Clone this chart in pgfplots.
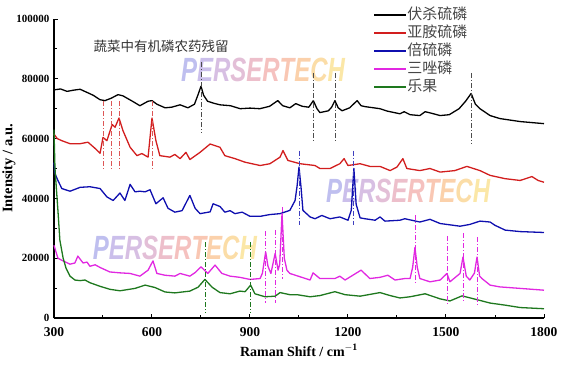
\documentclass[border=0pt]{standalone}
\usepackage{pgfplots}
\pgfplotsset{compat=1.18}
\usepackage{fontspec}
\setmainfont{Liberation Serif}
\newfontfamily\cjk{Noto Sans CJK SC}
\newfontfamily\wm{Liberation Sans}
\definecolor{cblack}{RGB}{0,0,0}
\definecolor{cred}{RGB}{210,30,30}
\definecolor{cblue}{RGB}{15,15,175}
\definecolor{cmag}{RGB}{225,40,225}
\definecolor{cgreen}{RGB}{30,120,30}
\definecolor{w1}{RGB}{175,175,235}
\definecolor{w2}{RGB}{190,175,230}
\definecolor{w3}{RGB}{205,175,220}
\definecolor{w4}{RGB}{220,175,205}
\definecolor{w5}{RGB}{232,175,190}
\definecolor{w6}{RGB}{242,178,175}
\definecolor{w7}{RGB}{248,185,160}
\definecolor{w8}{RGB}{250,198,150}
\definecolor{w9}{RGB}{250,212,145}
\definecolor{w10}{RGB}{250,225,145}
\definecolor{legtext}{RGB}{70,70,70}
\newcommand{\wmark}{{\wm\bfseries\itshape\color{w1}P\color{w2}E\color{w3}R\color{w4}S\color{w5}E\color{w6}R\color{w7}T\color{w8}E\color{w9}C\color{w10}H}}
\begin{document}
\begin{tikzpicture}
\begin{axis}[name=ax, scale only axis, width=490pt, height=299pt,
  xmin=300, xmax=1800, ymin=0, ymax=100000,
  axis x line*=bottom, axis y line*=left,
  axis line style={line width=1.2pt},
  xtick={300,600,...,1800}, minor xtick={450,750,...,1650},
  ytick={0,20000,...,100000}, minor ytick={10000,30000,...,90000},
  tick align=inside, major tick length=4pt, minor tick length=3pt,
  tick style={line width=1pt, black},
  scaled y ticks=false, scaled x ticks=false,
  xticklabel={\pgfmathprintnumber[fixed,precision=0,1000 sep={},assume math mode=true]{\tick}},
  yticklabel={\pgfmathprintnumber[fixed,precision=0,1000 sep={},assume math mode=true]{\tick}},
  xticklabel style={font=\bfseries\fontsize{13.5}{13.5}\selectfont, yshift=-6pt},
  yticklabel style={font=\bfseries\fontsize{11}{11}\selectfont, xshift=-1pt},
  xlabel={\bfseries Raman Shift / cm$^{\mathbf{-1}}$},
  ylabel={\bfseries Intensity / a.u.},
  xlabel style={font=\bfseries\fontsize{14}{14}\selectfont, yshift=-1pt},
  ylabel style={font=\bfseries\fontsize{14.5}{14.5}\selectfont, yshift=-6pt},
  clip=false,
  legend style={at={(0.645,1.045)}, anchor=north west, draw=none, fill=none,
    font=\cjk\fontsize{15}{15}\selectfont,
    nodes={inner sep=0.5pt, text height=11.5pt, text depth=2.5pt, anchor=west, text=legtext},
    row sep=3pt},
  legend cell align=left,
  legend image code/.code={\draw[#1, line width=1.5pt, solid] (0pt,0pt) -- (32pt,0pt);},
  every axis plot/.append style={line width=1.3pt, line join=round},
  mk/.style={forget plot, line width=0.8pt, dash pattern=on 5pt off 2pt on 1pt off 2pt},
]
\node[font=\fontsize{24}{24}\selectfont, yscale=1.4, opacity=0.8] at (axis cs:940,82900) {\wmark};
\node[font=\fontsize{24}{24}\selectfont, yscale=1.4, opacity=0.8] at (axis cs:1384,42500) {\wmark};
\node[font=\fontsize{24}{24}\selectfont, yscale=1.4, opacity=0.8] at (axis cs:670,23400) {\wmark};
\node[font=\cjk\fontsize{13.5}{13.5}\selectfont, text=black!80] at (axis cs:628,91000) {蔬菜中有机磷农药残留};

% black
\addplot[cblack] coordinates {(300,76300)(320,76600)(340,75800)(360,76200)(380,76500)(400,75500)(420,74500)(441,73000)(456,72700)(475,73500)(496,74700)(511,74300)(540,72500)(563,71000)(588,72500)(600,72700)(615,71500)(640,70300)(660,70500)(686,71300)(710,70300)(730,71500)(742,75000)(750,77500)(758,74500)(770,72500)(790,71800)(808,71300)(840,71000)(870,70000)(900,70200)(930,70000)(960,70800)(985,72700)(1000,71000)(1022,70300)(1040,71700)(1060,70800)(1080,70500)(1094,72700)(1105,70000)(1114,68700)(1140,69300)(1150,70500)(1160,72700)(1170,70300)(1182,69300)(1205,70300)(1228,72700)(1240,71000)(1252,70700)(1298,70000)(1320,69200)(1359,68300)(1372,69000)(1390,68000)(1420,67700)(1436,69000)(1455,68500)(1482,67700)(1510,68000)(1540,70000)(1560,72500)(1577,75100)(1590,71500)(1604,70000)(1635,67700)(1665,66700)(1727,65700)(1800,65000)};
\addlegendentry{伏杀硫磷}
% red
\addplot[cred] coordinates {(300,61500)(310,60000)(324,59300)(349,58300)(380,58300)(404,58800)(426,56700)(441,55100)(450,60400)(462,59300)(478,64700)(487,63800)(499,66900)(511,62700)(533,57100)(554,54300)(569,55000)(588,53800)(600,66900)(612,59300)(624,54300)(655,53800)(670,54700)(686,53300)(704,55400)(716,53000)(747,55400)(778,58200)(808,57100)(823,54300)(854,53300)(885,52100)(931,51000)(961,51600)(992,53800)(1001,56000)(1016,52700)(1053,51600)(1099,51000)(1114,50000)(1145,50000)(1175,51600)(1188,53300)(1200,51000)(1237,51600)(1267,50700)(1298,50700)(1329,49300)(1350,50500)(1368,53300)(1380,50000)(1420,49300)(1451,50000)(1482,48800)(1527,49300)(1564,50700)(1604,49300)(1635,47700)(1681,46600)(1727,46000)(1763,47300)(1782,46000)(1800,45400)};
\addlegendentry{亚胺硫磷}
% blue
\addplot[cblue] coordinates {(300,52000)(303,48300)(312,46000)(324,43300)(349,42400)(380,43700)(410,43900)(441,43300)(462,40500)(481,39300)(502,41800)(517,39300)(533,44700)(548,42200)(563,42400)(579,42200)(594,42900)(612,38200)(634,40200)(649,36700)(670,35400)(692,35900)(716,41000)(732,36700)(747,34900)(778,35500)(787,38200)(808,37300)(823,35400)(839,35900)(854,34900)(876,35400)(900,34000)(931,34000)(961,34600)(992,34900)(1022,36000)(1038,39300)(1044,44000)(1050,50500)(1056,44000)(1062,36000)(1084,33800)(1099,33200)(1120,34300)(1145,33200)(1175,33800)(1200,32700)(1210,36000)(1218,50000)(1225,38000)(1237,33500)(1252,33200)(1283,32700)(1298,33800)(1313,32400)(1359,32700)(1374,33200)(1420,32100)(1451,33000)(1482,31600)(1543,30700)(1573,31300)(1604,32400)(1635,32100)(1650,31000)(1681,29400)(1727,28900)(1800,28600)};
\addlegendentry{倍硫磷}
% magenta
\addplot[cmag] coordinates {(300,24300)(312,20000)(324,19300)(349,18000)(364,18400)(373,20700)(389,18400)(401,18700)(410,17300)(426,17800)(441,16900)(471,15400)(502,15100)(533,14900)(563,14000)(588,16000)(603,19100)(615,14900)(640,14300)(670,14000)(686,14900)(716,14000)(732,15200)(750,17100)(771,14900)(793,17700)(814,14900)(839,14000)(869,13600)(900,12900)(931,13200)(938,15000)(948,22100)(955,17300)(964,14900)(977,21600)(986,16000)(991,18000)(998,34900)(1005,20000)(1013,16000)(1022,14900)(1053,13800)(1084,12700)(1093,15100)(1114,13200)(1160,13200)(1175,14000)(1191,12700)(1240,16000)(1267,13200)(1298,13600)(1322,14300)(1344,12700)(1374,13200)(1390,13200)(1398,17000)(1405,23600)(1412,17000)(1420,13200)(1451,12100)(1482,12700)(1503,14900)(1512,12100)(1543,14900)(1552,20400)(1562,14000)(1573,12700)(1587,15000)(1595,20400)(1603,14000)(1610,13200)(1635,11000)(1665,10400)(1727,9900)(1800,9300)};
\addlegendentry{三唑磷}
% green
\addplot[cgreen] coordinates {(300,63000)(303,50000)(312,36000)(318,26000)(328,20000)(337,16600)(349,14000)(364,12700)(380,12500)(395,12700)(410,11800)(441,10600)(471,9600)(502,9100)(548,9900)(579,11000)(609,10200)(640,8700)(670,8400)(716,9000)(741,10300)(762,12900)(784,10300)(808,8500)(839,8100)(869,9000)(885,8800)(902,11000)(915,8100)(946,7100)(977,7300)(992,8500)(1022,7800)(1044,7800)(1084,7100)(1114,7500)(1160,8800)(1191,7800)(1237,7300)(1298,8500)(1329,7500)(1359,6700)(1390,7100)(1436,8100)(1482,6400)(1512,5700)(1549,7400)(1589,6300)(1635,5000)(1681,4300)(1727,3500)(1800,3100)};
\addlegendentry{乐果}

% marker lines
\addplot[mk, black!70] coordinates {(750,85500)(750,62000)};
\addplot[mk, black!70] coordinates {(1095,82000)(1095,59500)};
\addplot[mk, black!70] coordinates {(1160,82000)(1160,59500)};
\addplot[mk, black!70] coordinates {(1577,82000)(1577,58500)};
\addplot[mk, cred!75] coordinates {(450,72500)(450,49500)};
\addplot[mk, cred!75] coordinates {(475,72500)(475,49500)};
\addplot[mk, cred!75] coordinates {(499,72500)(499,49500)};
\addplot[mk, cred!75] coordinates {(600,72500)(600,49500)};
\addplot[mk, cblue!80] coordinates {(1050,56000)(1050,31000)};
\addplot[mk, cblue!80] coordinates {(1218,56000)(1218,31000)};
\addplot[mk, cmag] coordinates {(948,29000)(948,5000)};
\addplot[mk, cmag] coordinates {(978,29500)(978,5000)};
\addplot[mk, cmag] coordinates {(1000,37000)(1000,13000)};
\addplot[mk, cmag] coordinates {(1405,34300)(1405,11000)};
\addplot[mk, cmag] coordinates {(1503,27300)(1503,4300)};
\addplot[mk, cmag] coordinates {(1552,28300)(1552,5000)};
\addplot[mk, cmag] coordinates {(1595,27000)(1595,3700)};
\addplot[mk, cgreen] coordinates {(762,25400)(762,1600)};
\addplot[mk, cgreen] coordinates {(902,25400)(902,1600)};
\end{axis}
\pgfresetboundingbox
\path (ax.south west) ++(-54pt,-47pt) rectangle ++(574pt,365pt);
\end{tikzpicture}
\end{document}
